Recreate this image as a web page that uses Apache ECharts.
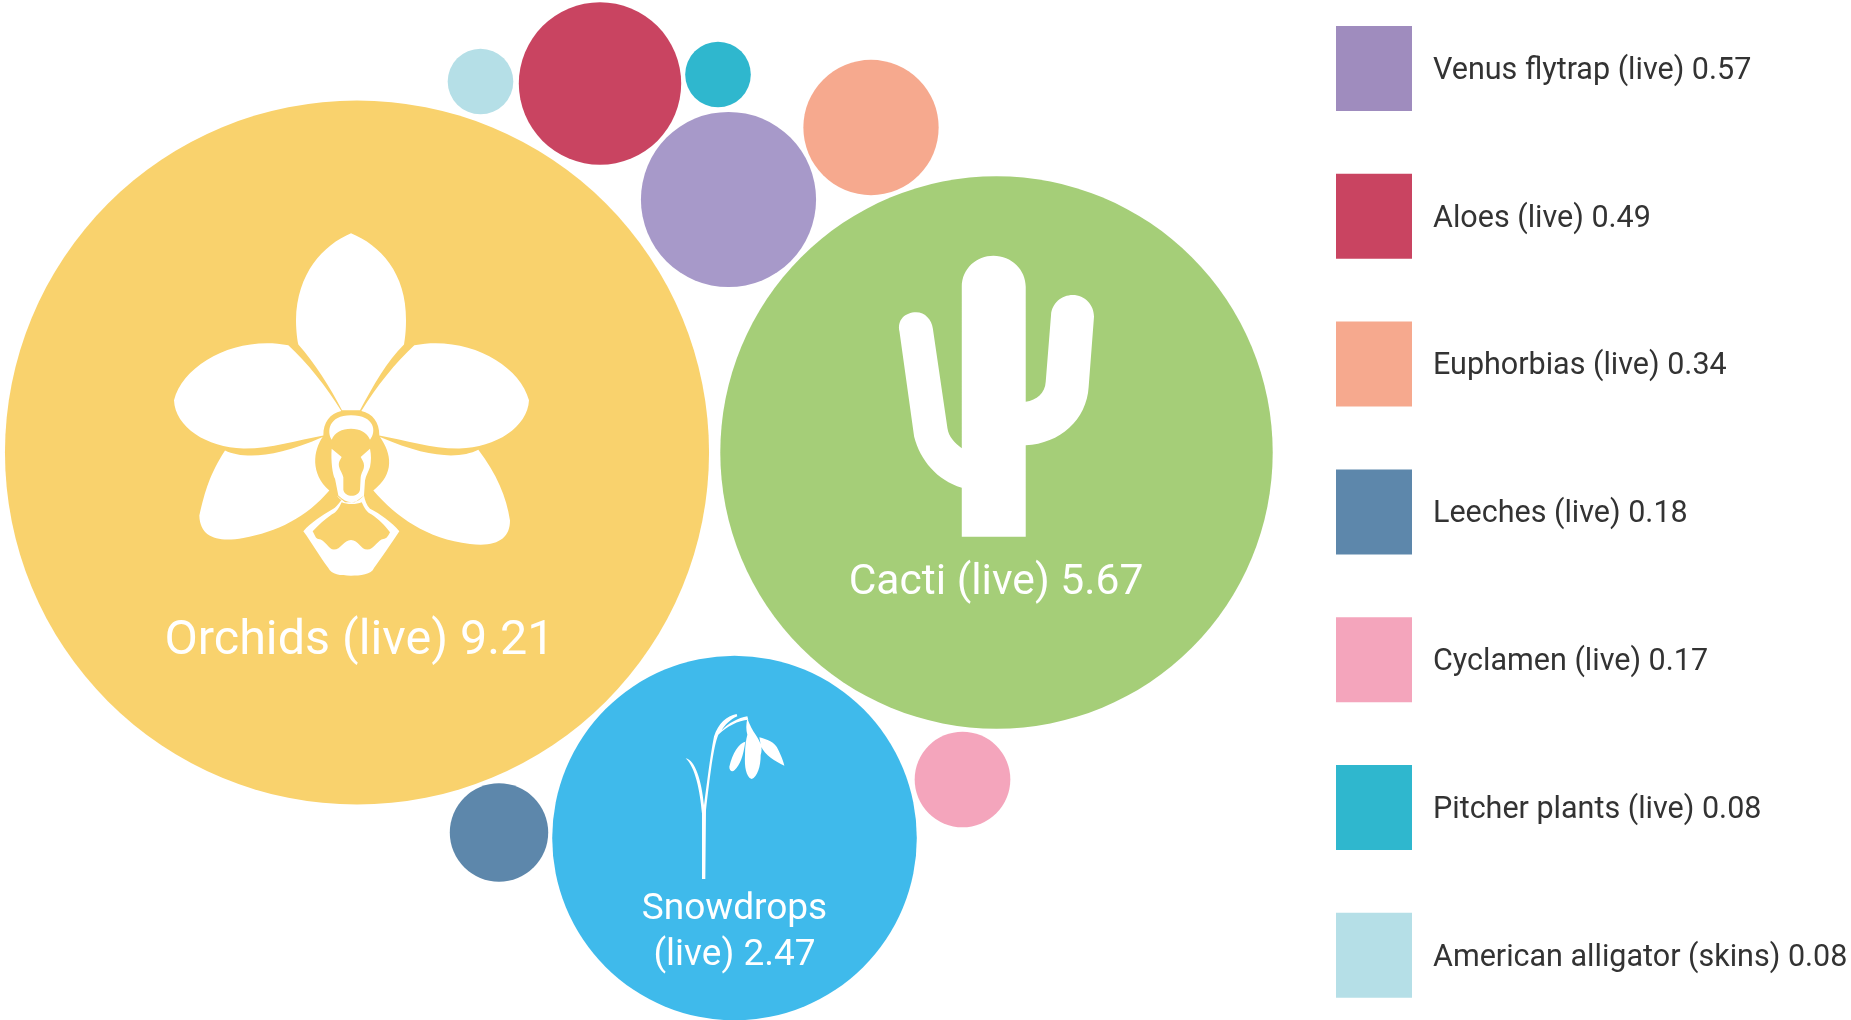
<!DOCTYPE html>
<html>
<head>
<meta charset="utf-8">
<style>html,body{margin:0;padding:0;background:#fff}#c{width:1851px;height:1020px}</style>
<script src="https://cdn.jsdelivr.net/npm/echarts@6/dist/echarts.min.js"></script>
</head>
<body>
<div id="c"></div>
<script>
// Data
const names = ['Orchids (live)','Cacti (live)','Snowdrops (live)','Venus flytrap (live)','Aloes (live)','Euphorbias (live)','Leeches (live)','Cyclamen (live)','Pitcher plants (live)','American alligator (skins)'];
const values = [9.21,5.67,2.47,0.57,0.49,0.34,0.18,0.17,0.08,0.08];
const legendNames = names.slice(3);

// Packed-bubble layout (positions on the hidden layout axes)
const layoutX = [357,996.5,734.5,728.5,600,871,499,962.5,718,480.5];
const layoutY = [452.5,452.5,838,199.5,83.5,127.5,832.5,779.5,74.5,81.5];

// Styles
const bubbleColors = ['#F9D26D','#A5CE78','#3FBAEB','#A799C9','#C94461','#F6A98E','#5D87AB','#F4A5BC','#2FB7CE','#B5DFE7'];
const legendColors = ['#9F8CBE','#C94461','#F6A98E','#5D87AB','#F4A5BC','#2FB7CE','#B5DFE7'];
const radiusScale = 116;
const sizeOf = v => 2 * radiusScale * Math.sqrt(v);

const labelStyles = [
  {text:'Orchids (live) 9.21', fontSize:48.5, dx:2.5, dy:189},
  {text:'Cacti (live) 5.67', fontSize:42.6, dx:-0.5, dy:130.5},
  {text:'Snowdrops\n(live) 2.47', fontSize:37, dx:0, dy:95, lineHeight:46}
];

const orchid = 'M603 70C690 105 770 190 768 330C768 360 766 380 762 403C710 455 670 525 630 600L576 600C540 530 495 460 445 403C440 380 438 350 438 330C440 190 520 105 603 70Z'
 + 'M415 405C470 455 530 530 574 602C540 610 520 635 520 675C440 690 360 715 280 714C170 712 75 650 72 570C100 460 260 375 415 405Z'
 + 'M793 405C738 455 678 530 634 602C668 610 688 635 688 675C768 690 848 715 928 714C1038 712 1133 650 1137 570C1108 460 948 375 793 405Z'
 + 'M225 720C280 745 370 745 518 680C490 720 480 790 538 840C470 920 380 965 280 982C210 995 150 985 148 915C165 840 180 790 225 720Z'
 + 'M985 718C930 745 840 745 690 680C725 730 735 790 670 840C740 920 830 985 960 1000C1040 1010 1080 985 1080 930C1070 860 1040 790 985 718Z'
 + 'M545 688C530 665 535 615 603 615C675 615 680 665 660 688C650 665 630 655 603 655C575 655 555 665 545 688Z'
 + 'M545 715L575 740C570 750 565 755 567 768C570 780 578 790 580 800L580 838C585 862 625 862 630 838L632 800C634 785 642 780 642 765C642 755 636 748 632 740L660 715C664 735 664 750 660 770C655 785 648 795 645 810L642 855C630 868 620 875 605 875C590 875 578 868 565 855L555 805C548 795 542 750 545 715Z'
 + 'M560 855C565 860 570 868 575 868C565 880 560 890 545 898C515 915 485 935 460 962C485 995 510 1040 535 1072C545 1092 570 1095 603 1095C630 1095 665 1092 672 1072C695 1040 720 1005 748 962C725 935 690 910 660 895C650 885 645 870 642 855L615 875L585 875Z'
 + 'M575 875C590 882 620 882 635 875C642 890 650 905 665 912C685 925 705 945 720 965C715 975 710 985 700 985C685 985 672 1017 652 1017C632 1017 625 988 603 988C582 988 572 1017 552 1017C535 1017 525 985 505 985C498 985 495 975 488 962C505 945 525 925 545 912C560 905 568 890 575 875Z';
const cactus = 'M275 890L275 743C200 720 150 660 132 590L88 275C80 240 105 217 138 217C165 217 185 240 188 265L232 565C235 590 255 610 275 625L275 140C275 85 320 47 370 47C425 47 467 90 467 140L467 485C500 480 525 460 527 425L543 225C545 190 575 165 608 165C645 165 672 195 672 230L656 440C650 540 570 610 467 616L467 890Z';
const snowdrop = 'M126 535L126 340C120 270 105 200 77 175C105 180 125 240 132 315C140 260 150 170 162 110C175 70 200 50 230 43L232 50C210 60 195 75 185 92C205 70 235 55 262 50L265 60C235 62 200 80 175 105C160 140 150 230 138 330L136 535Z'
 + 'M262 55C268 75 280 95 287 105C300 125 310 145 302 165C302 200 292 230 275 237C258 230 253 200 255 165C255 140 258 120 262 105C258 90 258 75 262 55Z'
 + 'M258 125C235 130 218 160 208 200C208 212 216 218 224 210C240 195 250 170 256 125Z'
 + 'M298 112C320 118 345 125 355 150C365 170 372 190 373 197C345 185 315 165 303 140Z';
const icons = [
  {path:orchid, x:351.5, y:404.5, size:[355,342.3]},
  {path:cactus, x:996.5, y:396.2, size:[195,281]},
  {path:snowdrop, x:735, y:796.5, size:[98.7,165]}
];

const series = names.map((name,i) => {
  const lab = labelStyles[i];
  return {
    type:'scatter', name, z:2, silent:true,
    symbol:'circle', symbolSize:sizeOf(values[i]),
    itemStyle:{color:bubbleColors[i],opacity:1},
    label: lab ? {
      show:true, position:'inside', offset:[lab.dx,lab.dy], formatter:lab.text,
      color:'#fff', fontFamily:'Roboto', fontWeight:400, fontSize:lab.fontSize,
      lineHeight:lab.lineHeight || lab.fontSize*1.2, align:'center'
    } : {show:false},
    data:[[layoutX[i],layoutY[i],values[i]]]
  };
});
icons.forEach(ic => series.push({
  type:'scatter', name:'icon', z:3, silent:true,
  symbol:'path://'+ic.path, symbolSize:ic.size,
  itemStyle:{color:'#fff',opacity:1},
  data:[[ic.x,ic.y]]
}));

const chart = echarts.init(document.getElementById('c'),null,{renderer:'canvas'});
chart.setOption({
  animation:false,
  backgroundColor:'#fff',
  grid:{left:0,right:0,top:0,bottom:0},
  xAxis:{type:'value',min:0,max:1851,show:false},
  yAxis:{type:'value',min:0,max:1020,inverse:true,show:false},
  legend:{
    orient:'vertical', left:1331, top:21, selectedMode:false,
    itemWidth:76, itemHeight:85, itemGap:62.8,
    icon:'rect',
    data:legendNames.map((n,i)=>({name:n,itemStyle:{color:legendColors[i]}})),
    formatter:n => '{a|' + n + ' ' + values[names.indexOf(n)].toFixed(2) + '}',
    textStyle:{
      fontFamily:'Roboto',fontSize:30.5,color:'#333',padding:[0,0,0,16],
      rich:{a:{fontFamily:'Roboto',fontSize:30.5,color:'#333',padding:[5.5,0,0,0]}}
    }
  },
  series
});
</script>
</body>
</html>
